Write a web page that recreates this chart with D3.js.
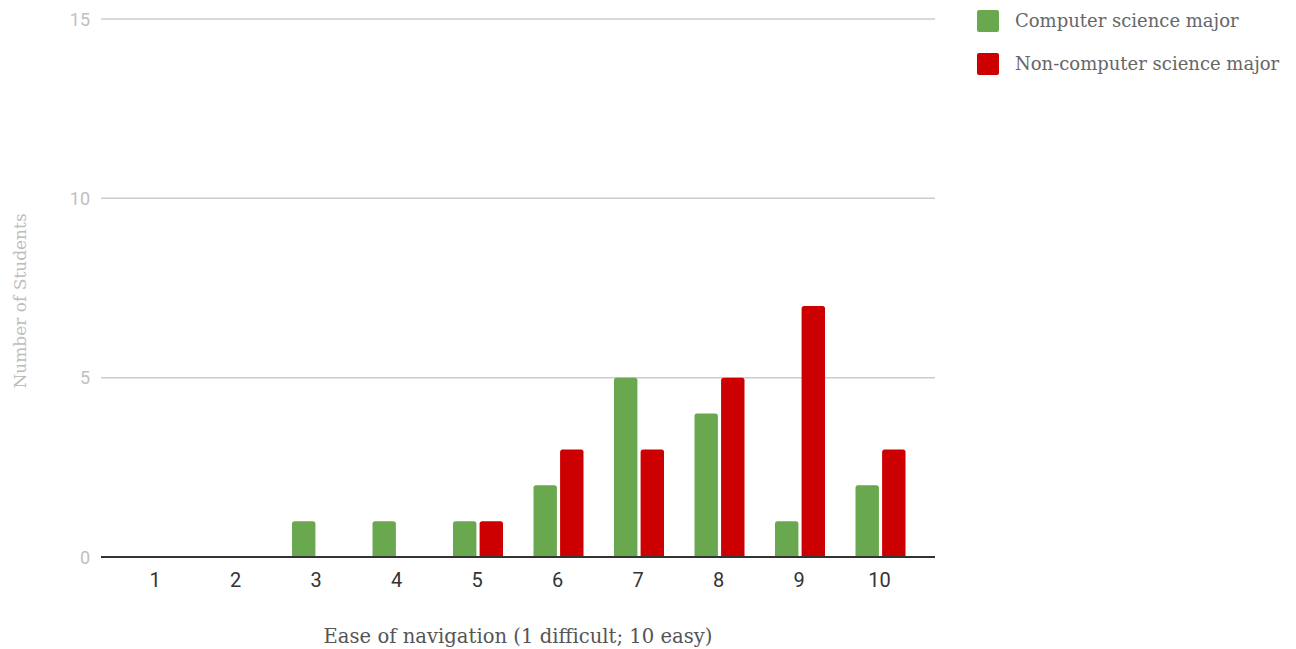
<!DOCTYPE html>
<html><head><meta charset="utf-8">
<script src="https://cdn.jsdelivr.net/npm/d3@7"></script>
<style>body{margin:0;background:#fff}</style>
</head><body>
<svg id="c" width="1296" height="649"></svg>
<script>
const categories = ["1","2","3","4","5","6","7","8","9","10"];
const csMajor = [0,0,1,1,1,2,5,4,1,2];
const nonCsMajor = [0,0,0,0,1,3,3,5,7,3];
const yTicks = [0,5,10,15];
const seriesNames = ["Computer science major","Non-computer science major"];
const colors = ["#6aa84f","#cc0000"];

const svg = d3.select("#c");
const x = d3.scaleBand().domain(categories).range([114.75, 919.75]);
const y = d3.scaleLinear().domain([0,15]).range([557,19]);
const inner = d3.scaleBand().domain([0,1]).range([-24,26]).paddingInner(0.12);

// gridlines
svg.append("g").selectAll("line").data(yTicks.filter(d=>d>0)).join("line")
  .attr("x1",101).attr("x2",935).attr("y1",d=>y(d)).attr("y2",d=>y(d))
  .attr("stroke","#cccccc").attr("stroke-width",1.5);

// y tick labels
svg.append("g").selectAll("text").data(yTicks).join("text")
  .attr("x",90).attr("y",d=>y(d)+6.5).attr("text-anchor","end")
  .attr("font-family","Roboto").attr("font-size",18).attr("fill","#c0c0c0")
  .text(d=>d);

// bars
const series = [csMajor, nonCsMajor];
function barPath(x0,y0,w,h,r){
  if(h<=0) return "";
  r=Math.min(r,h,w/2);
  return `M${x0},${y0+h}V${y0+r}Q${x0},${y0} ${x0+r},${y0}H${x0+w-r}Q${x0+w},${y0} ${x0+w},${y0+r}V${y0+h}Z`;
}
series.forEach((vals,si)=>{
  svg.append("g").selectAll("path").data(vals.map((v,i)=>({v,c:categories[i]}))).join("path")
    .attr("d",d=>{
      const cx = x(d.c)+x.bandwidth()/2 + inner(si);
      return barPath(cx, y(d.v), inner.bandwidth(), y(0)-y(d.v), 2.5);
    })
    .attr("fill",colors[si]);
});

// zero line
svg.append("line").attr("x1",101).attr("x2",935).attr("y1",y(0)).attr("y2",y(0))
  .attr("stroke","#333").attr("stroke-width",2);

// x axis labels
const xAxis = d3.axisBottom(x).tickSize(0).tickPadding(0);
const gx = svg.append("g").attr("transform",`translate(0,${y(0)})`).call(xAxis);
gx.select(".domain").remove();
gx.selectAll("text").attr("dy",0).attr("y",30)
  .attr("font-family","Roboto").attr("font-size",20).attr("fill","#333");

// axis titles
svg.append("text").attr("x",518).attr("y",643).attr("text-anchor","middle")
  .attr("font-family","Georgia, 'DejaVu Serif', serif").attr("font-size",20).attr("fill","#555")
  .attr("textLength",389).attr("lengthAdjust","spacingAndGlyphs")
  .text("Ease of navigation (1 difficult; 10 easy)");
svg.append("text").attr("transform","translate(26,301) rotate(-90)").attr("text-anchor","middle")
  .attr("font-family","Georgia, 'DejaVu Serif', serif").attr("font-size",17).attr("fill","#bdbdbd")
  .text("Number of Students");

// legend
const lg = svg.append("g").selectAll("g").data(seriesNames).join("g")
  .attr("transform",(d,i)=>`translate(977,${10+i*43})`);
lg.append("rect").attr("width",22).attr("height",22).attr("rx",2).attr("fill",(d,i)=>colors[i]);
lg.append("text").attr("x",38).attr("y",17).attr("font-family","Georgia, 'DejaVu Serif', serif")
  .attr("font-size",18).attr("fill","#666").text(d=>d);
</script>
</body></html>
